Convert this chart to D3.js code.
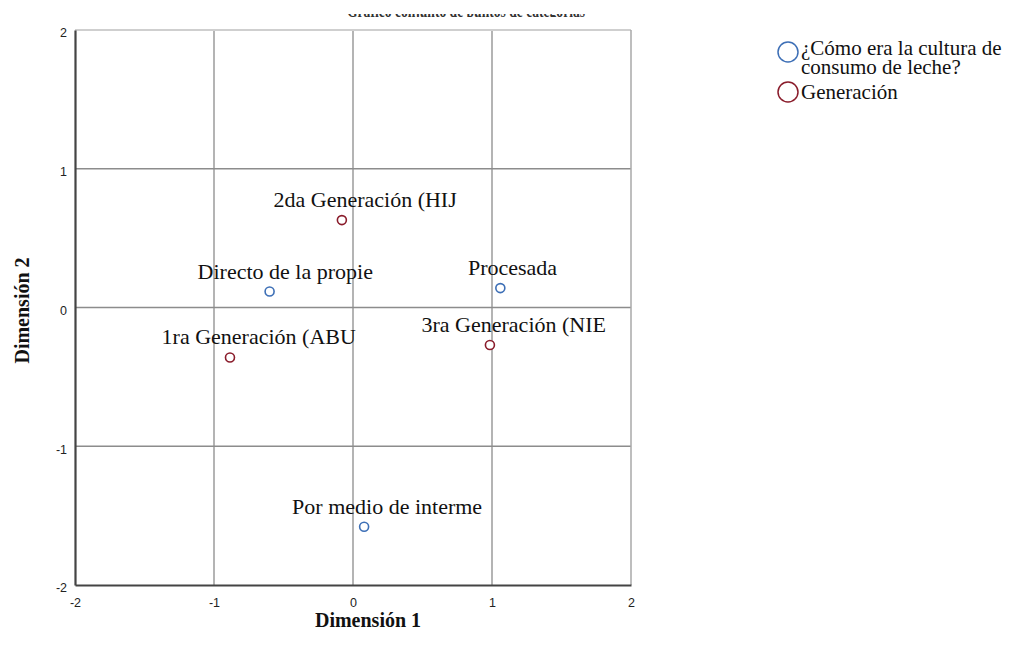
<!DOCTYPE html>
<html>
<head>
<meta charset="utf-8">
<script src="https://cdn.jsdelivr.net/npm/d3@7"></script>
<style>
  body { margin: 0; background: #fff; }
  svg { display: block; }
  .tick text { font-family: "Liberation Sans", Arial, sans-serif; font-size: 12.5px; fill: #222; }
  .lbl { font-family: "Liberation Serif", "Times New Roman", serif; font-size: 22px; fill: #111; }
  .leg { font-family: "Liberation Serif", "Times New Roman", serif; font-size: 21px; fill: #111; }
  .axtitle { font-family: "Liberation Serif", "Times New Roman", serif; font-size: 20px; font-weight: bold; fill: #111; }
</style>
</head>
<body>
<script>
// values
var pointNames = ["2da Generación (HIJ", "Directo de la propie", "Procesada",
                  "1ra Generación (ABU", "3ra Generación (NIE", "Por medio de interme"];
var pointGroups = ["gen", "cult", "cult", "gen", "gen", "cult"];
var dim1 = [-0.08, -0.60, 1.06, -0.885, 0.985, 0.08];
var dim2 = [0.63, 0.115, 0.14, -0.36, -0.27, -1.58];
var ticks = [-2, -1, 0, 1, 2];
var legendGroups = ["cult", "gen"];
var legendLines = [["¿Cómo era la cultura de", "consumo de leche?"], ["Generación"]];

var COLORS = { cult: "#3d6fb6", gen: "#8a1c2b" };

var W = 1020, H = 653;
var plot = { left: 75, top: 30, right: 631, bottom: 585 };

var svg = d3.select("body").append("svg")
    .attr("width", W)
    .attr("height", H);

var x = d3.scaleLinear().domain([-2, 2]).range([plot.left, plot.right]);
var y = d3.scaleLinear().domain([-2, 2]).range([plot.bottom, plot.top]);

/* title is cropped in the original, only its lower edge shows */
svg.append("clipPath").attr("id", "titleclip")
    .append("rect").attr("x", 0).attr("y", 14).attr("width", W).attr("height", 3);
svg.append("text")
    .attr("clip-path", "url(#titleclip)")
    .attr("x", 347).attr("y", 17)
    .attr("textLength", 238)
    .attr("lengthAdjust", "spacingAndGlyphs")
    .style("font-family", "Liberation Serif, serif")
    .style("font-size", "18px")
    .style("font-weight", "bold")
    .style("fill", "#333")
    .text("Gráfico conjunto de puntos de categorías");

// grid lines
var grid = svg.append("g");
grid.selectAll(".gx").data(ticks.slice(1, -1)).enter().append("line")
    .attr("x1", d => x(d)).attr("x2", d => x(d))
    .attr("y1", plot.top).attr("y2", plot.bottom)
    .attr("stroke", "#8c8c8c").attr("stroke-width", 1.3);
grid.selectAll(".gy").data(ticks.slice(1, -1)).enter().append("line")
    .attr("y1", d => y(d)).attr("y2", d => y(d))
    .attr("x1", plot.left).attr("x2", plot.right)
    .attr("stroke", "#8c8c8c").attr("stroke-width", 1.3);

// frame: light top/right
svg.append("line").attr("x1", plot.left).attr("x2", plot.right)
    .attr("y1", plot.top).attr("y2", plot.top)
    .attr("stroke", "#cfcfcf").attr("stroke-width", 2);
svg.append("line").attr("x1", plot.right).attr("x2", plot.right)
    .attr("y1", plot.top).attr("y2", plot.bottom)
    .attr("stroke", "#a8a8a8").attr("stroke-width", 1.5);

// axes
var fmt = function(d) { return String(d); };
var xAxis = svg.append("g")
    .attr("transform", "translate(0," + plot.bottom + ")")
    .call(d3.axisBottom(x).tickValues(ticks).tickFormat(fmt).tickSize(0).tickPadding(13));
var yAxis = svg.append("g")
    .attr("transform", "translate(" + plot.left + ",0)")
    .call(d3.axisLeft(y).tickValues(ticks).tickFormat(fmt).tickSize(0).tickPadding(8));
[xAxis, yAxis].forEach(function(a) {
    a.select(".domain").attr("stroke", "#444").attr("stroke-width", 2.2);
});
yAxis.selectAll(".tick text").attr("dy", "0.55em");

// axis titles
svg.append("text").attr("class", "axtitle")
    .attr("x", x(0) + 15).attr("y", 627)
    .attr("text-anchor", "middle")
    .text("Dimensión 1");
svg.append("text").attr("class", "axtitle")
    .attr("transform", "translate(29," + (y(0) + 3) + ") rotate(-90)")
    .attr("text-anchor", "middle")
    .text("Dimensión 2");

// points
var pts = pointNames.map(function(n, i) {
    return { name: n, group: pointGroups[i], d1: dim1[i], d2: dim2[i] };
});
var node = svg.append("g").selectAll("g").data(pts).enter().append("g")
    .attr("transform", d => "translate(" + x(d.d1) + "," + y(d.d2) + ")");
node.append("circle")
    .attr("r", 4.5)
    .attr("fill", "#fff")
    .attr("stroke", d => COLORS[d.group])
    .attr("stroke-width", 1.6);
// labels start left of the point by an amount tied to the label length
node.append("text")
    .attr("class", "lbl")
    .attr("x", d => -d.name.length * 3.6)
    .attr("y", -13)
    .text(d => d.name);

// legend
var legend = svg.append("g").attr("transform", "translate(788,0)");
var legY = [52, 92];
var legBase = [[55, 74], [99]];
legendGroups.forEach(function(g, i) {
    legend.append("circle")
        .attr("cx", 0).attr("cy", legY[i])
        .attr("r", 10)
        .attr("fill", "none")
        .attr("stroke", COLORS[g])
        .attr("stroke-width", 1.5);
    legendLines[i].forEach(function(t, j) {
        legend.append("text")
            .attr("class", "leg")
            .attr("x", 13)
            .attr("y", legBase[i][j])
            .text(t);
    });
});
</script>
</body>
</html>
